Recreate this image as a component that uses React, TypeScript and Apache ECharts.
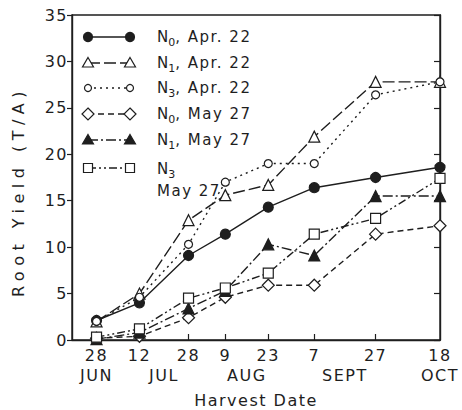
import React, { useEffect, useRef } from "react";
import * as echarts from "echarts";

// Harvest dates as days after 28 June
const days = [0, 14, 30, 42, 56, 71, 91, 112];
const dayLabels = ["28", "12", "28", "9", "23", "7", "27", "18"];
const monthNames = ["JUN", "JUL", "AUG", "SEPT", "OCT"];
const monthPos = [0, 22, 49, 81, 112];

const n0Apr = [2.1, 4.0, 9.1, 11.4, 14.3, 16.4, 17.5, 18.6];
const n1Apr = [2.0, 5.0, 12.9, 15.6, 16.7, 21.9, 27.8, 27.8];
const n3Apr = [2.0, 4.6, 10.3, 17.0, 19.0, 19.0, 26.4, 27.8];
const n0May = [0.2, 0.4, 2.4, 4.6, 5.9, 5.9, 11.4, 12.3];
const n1May = [0.1, 0.8, 3.4, 5.3, 10.3, 9.1, 15.5, 15.5];
const n3May = [0.3, 1.2, 4.5, 5.6, 7.2, 11.4, 13.1, 17.4];

const seriesNames = [
  "N0, Apr. 22",
  "N1, Apr. 22",
  "N3, Apr. 22",
  "N0, May 27",
  "N1, May 27",
  "N3 May 27",
];
const seriesData = [n0Apr, n1Apr, n3Apr, n0May, n1May, n3May];

const INK = "#1e1e1e";
const FONT = "DejaVu Sans";
const Y_NAME = "Root Yield (T/A)";
const X_NAME = "Harvest Date";

type Style = {
  symbol: string;
  size: number;
  filled: boolean;
  dash: number[] | "solid";
  kind: string;
};

const styles: Style[] = [
  { symbol: "circle", size: 10, filled: true, dash: "solid", kind: "circle" },
  { symbol: "triangle", size: 11, filled: false, dash: [12, 4], kind: "tri" },
  { symbol: "circle", size: 8, filled: false, dash: [2, 4], kind: "smallCircle" },
  { symbol: "diamond", size: 12, filled: false, dash: [6, 4], kind: "diamond" },
  { symbol: "triangle", size: 11, filled: true, dash: [10, 3, 2, 3], kind: "tri" },
  { symbol: "rect", size: 10, filled: false, dash: [8, 3, 2, 3, 2, 3], kind: "rect" },
];

function legendSymbol(s: Style, cx: number, cy: number): any {
  const style = {
    fill: s.filled ? INK : "#fff",
    stroke: INK,
    lineWidth: 1.2,
  };
  if (s.kind === "circle") return { type: "circle", shape: { cx, cy, r: 4.5 }, style, z: 10 };
  if (s.kind === "smallCircle") return { type: "circle", shape: { cx, cy, r: 3.5 }, style, z: 10 };
  if (s.kind === "tri")
    return {
      type: "polygon",
      shape: { points: [[cx, cy - 5.5], [cx + 5.5, cy + 4], [cx - 5.5, cy + 4]] },
      style,
      z: 10,
    };
  if (s.kind === "diamond")
    return {
      type: "polygon",
      shape: { points: [[cx, cy - 6], [cx + 6, cy], [cx, cy + 6], [cx - 6, cy]] },
      style,
      z: 10,
    };
  return { type: "rect", shape: { x: cx - 4.5, y: cy - 4.5, width: 9, height: 9 }, style, z: 10 };
}

const legendRows = [37, 63, 88, 114, 140, 168];
const legendTexts = [
  "{n|N}{s|0}{n|, Apr. 22}",
  "{n|N}{s|1}{n|, Apr. 22}",
  "{n|N}{s|3}{n|, Apr. 22}",
  "{n|N}{s|0}{n|, May 27}",
  "{n|N}{s|1}{n|, May 27}",
  "{n|N}{s|3}\n{n|May 27}",
];

export default function App() {
  const ref = useRef<HTMLDivElement>(null);

  useEffect(() => {
    if (!ref.current) return;
    const chart = echarts.init(ref.current, null, { renderer: "svg" });

    const graphics: any[] = [];
    legendRows.forEach((y, i) => {
      const s = styles[i];
      graphics.push({
        type: "line",
        shape: { x1: 88, y1: y, x2: 130, y2: y },
        style: { stroke: INK, lineWidth: 1.4, lineDash: s.dash === "solid" ? null : s.dash },
        z: 9,
      });
      graphics.push(legendSymbol(s, 88, y));
      graphics.push(legendSymbol(s, 130, y));
      const last = i === legendRows.length - 1;
      graphics.push({
        type: "text",
        x: 157,
        y: last ? y - 10 : y,
        z: 10,
        style: {
          text: legendTexts[i],
          fill: INK,
          fontFamily: FONT,
          verticalAlign: last ? "top" : "middle",
          rich: {
            n: { fontSize: 15, lineHeight: 22, fontFamily: FONT, fill: INK },
            s: { fontSize: 11, lineHeight: 16, verticalAlign: "bottom", fontFamily: FONT, fill: INK },
          },
        },
      });
    });

    const series = seriesData.map((vals, i) => {
      const s = styles[i];
      return {
        name: seriesNames[i],
        type: "line",
        xAxisIndex: 0,
        yAxisIndex: 0,
        data: days.map((d, j) => [d, vals[j]]),
        symbol: s.symbol,
        symbolSize: s.size,
        showSymbol: true,
        lineStyle: { color: INK, width: 1.4, type: s.dash },
        itemStyle: { color: s.filled ? INK : "#fff", borderColor: INK, borderWidth: 1.2 },
        z: 3 + i,
      };
    });

    chart.setOption({
      animation: false,
      backgroundColor: "#fff",
      textStyle: { fontFamily: FONT, color: INK },
      grid: {
        left: 72,
        right: 22,
        top: 15,
        bottom: 70,
        show: true,
        borderColor: INK,
        borderWidth: 1.4,
        backgroundColor: "transparent",
        containLabel: false,
        outerBoundsMode: "none",
      },
      xAxis: [
        {
          type: "value",
          min: -8,
          max: 112,
          position: "bottom",
          axisLine: { show: true, onZero: false, lineStyle: { color: INK, width: 1.4 } },
          axisTick: {
            show: true,
            inside: true,
            length: 6,
            lineStyle: { color: INK, width: 1.2 },
            customValues: days.slice(0, 7),
          },
          axisLabel: {
            customValues: days,
            formatter: (v: number) => dayLabels[days.indexOf(v)] ?? "",
            fontSize: 16,
            color: INK,
            margin: 7,
            fontFamily: FONT,
          },
          splitLine: { show: false },
        },
        {
          type: "value",
          min: -8,
          max: 112,
          position: "bottom",
          offset: 0,
          axisLine: { show: false, onZero: false },
          axisTick: { show: false },
          axisLabel: {
            customValues: monthPos,
            formatter: (v: number) => monthNames[monthPos.indexOf(v)] ?? "",
            fontSize: 16,
            color: INK,
            margin: 27,
            fontFamily: FONT,
          },
          splitLine: { show: false },
          name: X_NAME,
          nameLocation: "middle",
          nameGap: 52,
          nameTextStyle: { fontSize: 16, color: INK, fontFamily: FONT },
        },
      ],
      yAxis: [
        {
          type: "value",
          min: 0,
          max: 35,
          interval: 5,
          position: "left",
          axisLine: { show: true, onZero: false, lineStyle: { color: INK, width: 1.4 } },
          axisTick: { show: true, inside: false, length: 5, lineStyle: { color: INK, width: 1.2 } },
          axisLabel: { fontSize: 16, color: INK, margin: 4, fontFamily: FONT },
          splitLine: { show: false },
          name: Y_NAME,
          nameLocation: "middle",
          nameRotate: 90,
          nameGap: 46,
          nameTextStyle: { fontSize: 16, color: INK, fontFamily: FONT, padding: [0, 28, 0, 0] },
        },
        {
          type: "value",
          min: 0,
          max: 35,
          interval: 5,
          position: "right",
          axisLine: { show: true, onZero: false, lineStyle: { color: INK, width: 1.4 } },
          axisTick: { show: true, inside: true, length: 6, lineStyle: { color: INK, width: 1.2 } },
          axisLabel: { show: false },
          splitLine: { show: false },
        },
      ],
      series,
      graphic: graphics,
    });

    // widen the letter spacing of the y-axis title, as in the original lettering
    const texts = ref.current.querySelectorAll("text");
    texts.forEach((t) => {
      if (t.textContent === Y_NAME) (t as SVGTextElement).style.letterSpacing = "5.5px";
    });

    return () => chart.dispose();
  }, []);

  return (
    <>
      <style>{`.chart svg text { letter-spacing: 1.5px; }`}</style>
      <div
        ref={ref}
        className="chart"
        style={{ position: "fixed", left: 0, top: 0, width: 462, height: 410 }}
      />
    </>
  );
}
